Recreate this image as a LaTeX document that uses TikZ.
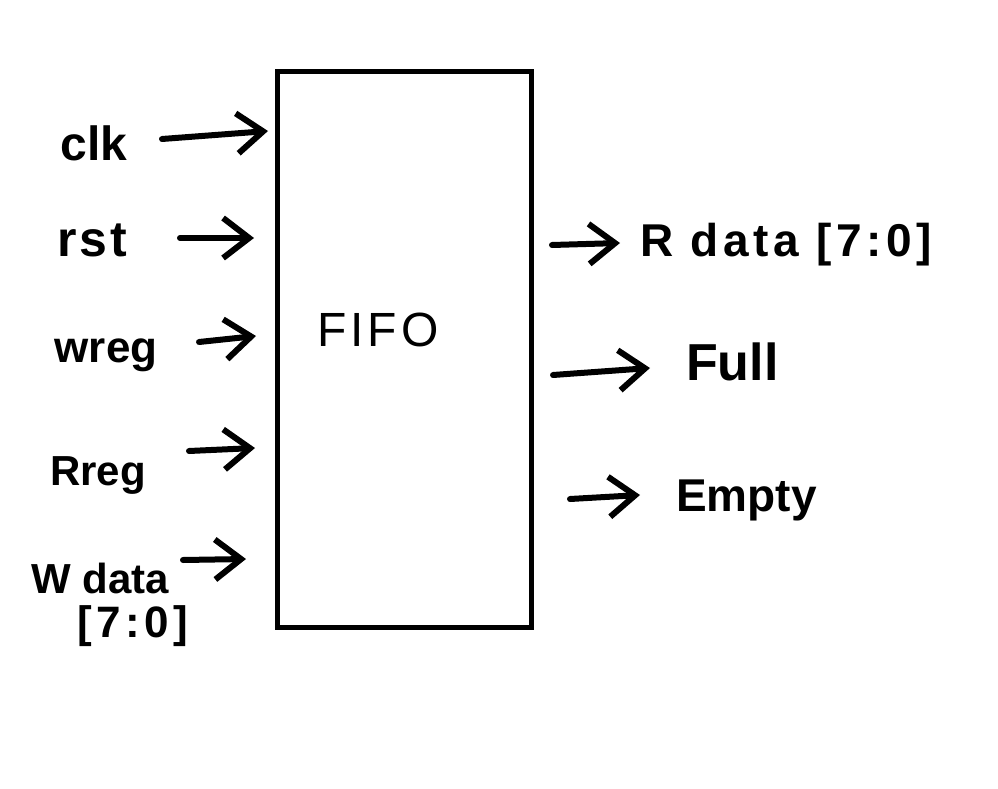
\documentclass[tikz,border=0pt]{standalone}
\usepackage{fontspec}
\setmainfont{Liberation Sans}
\usetikzlibrary{arrows.meta}
\tikzset{
  sig/.style={line width=6pt, line cap=round, line join=round, -{Straight Barb[length=26pt,width=40pt,line width=6pt]}},
  lbl/.style={inner sep=0pt, font=\fontsize{48}{52}\selectfont\bfseries},
  blk/.style={draw, line width=5pt, minimum width=254pt, minimum height=555pt, inner sep=0pt}
}
\begin{document}
\begin{tikzpicture}[x=1pt,y=-1pt]
\useasboundingbox (0,0) rectangle (998,789);
\fill[white] (0,0) rectangle (998,789);
% block
\node[blk] (fifo) at (404,349.5) {};
\node[inner sep=0pt, font=\fontsize{48}{52}\selectfont\addfontfeature{LetterSpace=8}] (fifotxt) at (378,330) {FIFO};
% inputs
\node[lbl] (clk) at (94,143) {clk};
\coordinate (clkA) at (162,139); \coordinate (clkB) at (268,131);
\draw[sig] (clkA) -- (clkB);
\node[lbl, font=\fontsize{50}{54}\selectfont\bfseries\addfontfeature{LetterSpace=6}] (rst) at (92,240) {rst};
\coordinate (rstA) at (180,238); \coordinate (rstB) at (254,238);
\draw[sig] (rstA) -- (rstB);
\node[lbl, font=\fontsize{44}{48}\selectfont\bfseries] (wreg) at (106,355) {wreg};
\coordinate (wregA) at (199,342); \coordinate (wregB) at (256,336);
\draw[sig] (wregA) -- (wregB);
\node[lbl, font=\fontsize{42}{46}\selectfont\bfseries] (rreg) at (98,475) {Rreg};
\coordinate (rregA) at (189,451); \coordinate (rregB) at (255,448);
\draw[sig] (rregA) -- (rregB);
\node[lbl, font=\fontsize{42}{46}\selectfont\bfseries] (wdata) at (100,578) {W data};
\node[lbl, font=\fontsize{44}{48}\selectfont\bfseries\addfontfeature{LetterSpace=10}] (wbits) at (133,626) {[7:0]};
\coordinate (wdA) at (183,560); \coordinate (wdB) at (246,559);
\draw[sig] (wdA) -- (wdB);
% outputs
\coordinate (rdA) at (552,245); \coordinate (rdB) at (620,243);
\draw[sig] (rdA) -- (rdB);
\node[lbl, anchor=west, font=\fontsize{46}{50}\selectfont\bfseries\addfontfeature{LetterSpace=10}] (rdata) at (640,245) {R data [7:0]};
\coordinate (fullA) at (553,375); \coordinate (fullB) at (650,368);
\draw[sig] (fullA) -- (fullB);
\node[lbl, anchor=west, font=\fontsize{52}{56}\selectfont\bfseries] (full) at (686,362) {Full};
\coordinate (emA) at (570,499); \coordinate (emB) at (640,495);
\draw[sig] (emA) -- (emB);
\node[lbl, anchor=west, font=\fontsize{46}{50}\selectfont\bfseries] (empty) at (676,500) {Empty};
\end{tikzpicture}
\end{document}
